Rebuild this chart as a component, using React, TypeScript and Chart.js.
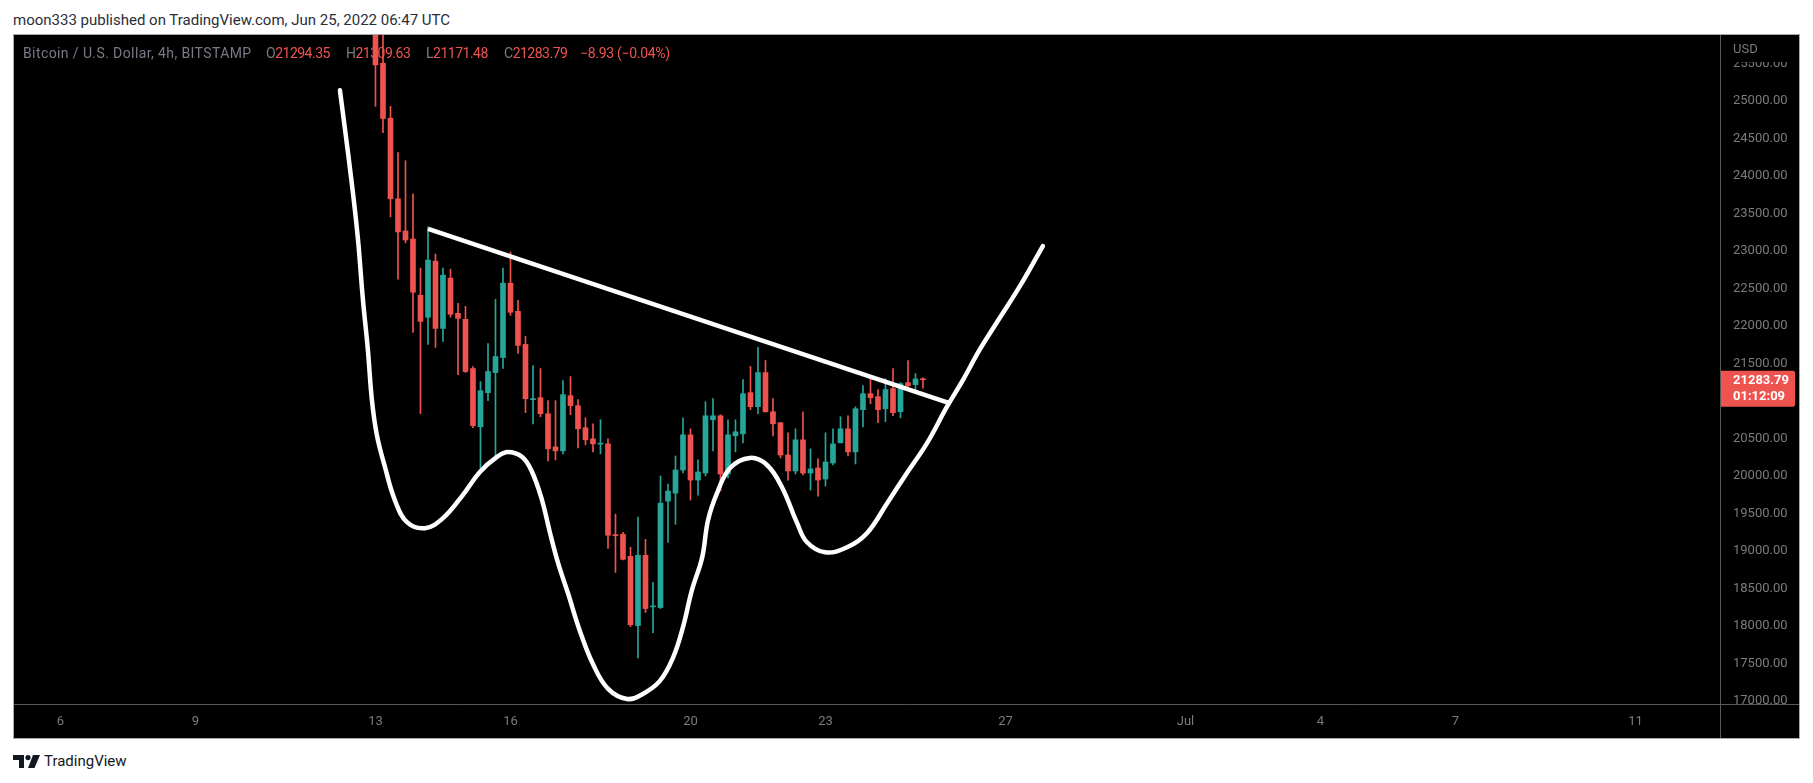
import React, { useEffect, useRef } from "react";
import { Chart, registerables } from "chart.js";

Chart.register(...registerables);

// ---- data ----
// 4h candles of BTC/USD (BITSTAMP) starting June 13 00:00; x = day of June
const candleStartDay = 13;
const candleStepDays = 4 / 24;

const opens = [
  26350, 25503, 24770, 23696, 23267, 23160, 22410, 22116, 22865, 21968,
  22638, 22169, 22089, 21433, 20656, 21111, 21379, 21580, 22571, 22196,
  21754, 21018, 21044, 20830, 20388, 20335, 21071, 20937, 20643, 20495,
  20425, 20428, 19215, 19223, 18929, 18005, 18942, 18255, 18246, 19665,
  19772, 20080, 20549, 19946, 20040, 20750, 20803, 20027, 20536, 20562,
  21111, 20924, 21379, 20857, 20710, 20281, 20067, 20482, 20040, 20107,
  19960, 20174, 20442, 20629, 20321, 20884, 21098, 21058, 20897, 21165,
  20857, 21245, 21218, 21294.35,
];
const highs = [
  26600, 26050, 24928, 24312, 24204, 23763, 22772, 23321, 22959, 22772,
  22758, 22303, 22263, 21460, 21259, 21767, 22357, 22772, 22986, 22343,
  21861, 21473, 21433, 21004, 21004, 21272, 21326, 21018, 20777, 20696,
  20750, 20495, 19491, 19250, 19049, 19451, 19156, 18581, 20000, 19893,
  20268, 20777, 20629, 20214, 20991, 21031, 20817, 20750, 20750, 21285,
  21460, 21714, 21540, 21031, 20715, 20576, 20629, 20857, 20362, 20228,
  20576, 20629, 20790, 20803, 20924, 21205, 21326, 21152, 21299, 21433,
  21245, 21540, 21366, 21309.63,
];
const lows = [
  24928, 24579, 23455, 22624, 23106, 21915, 20830, 21754, 21714, 21794,
  22116, 21352, 21380, 20643, 20080, 21004, 20214, 21433, 22142, 21634,
  20844, 20696, 20790, 20201, 20214, 20295, 20817, 20375, 20415, 20321,
  20295, 19036, 18715, 18880, 17991, 17576, 18179, 17911, 18233, 19116,
  19357, 20040, 19679, 19746, 20000, 20335, 19799, 19973, 20321, 20442,
  20884, 20830, 20850, 20536, 20241, 19946, 20027, 20013, 19813, 19732,
  19866, 20147, 20442, 20268, 20161, 20656, 20964, 20710, 20723, 20803,
  20777, 21138, 21111, 21171.48,
];
const closes = [
  25481, 24767, 23696, 23254, 23147, 22450, 22062, 22879, 21968, 22678,
  22156, 22102, 21393, 20670, 21138, 21393, 21593, 22571, 22183, 21741,
  21031, 21031, 20830, 20362, 20335, 21085, 20937, 20629, 20482, 20428,
  20432, 19210, 19205, 18889, 18018, 18942, 18233, 18262, 19638, 19799,
  20080, 20549, 19946, 20054, 20803, 20803, 20027, 20549, 20589, 21098,
  20924, 21379, 20857, 20696, 20281, 20067, 20482, 20040, 20094, 19946,
  20187, 20428, 20629, 20321, 20897, 21098, 21044, 20884, 21152, 20844,
  21232, 21205, 21294, 21283.79,
];

// hand-drawn annotation (white): cup-like curve and descending trendline
const curveDays = [
  12.21, 12.32, 12.48, 12.61, 12.72, 12.83, 12.92, 13.03, 13.21, 13.43,
  13.7, 14.1, 14.5, 14.94, 15.32, 15.7, 15.94, 16.26, 16.48, 16.7,
  16.88, 17.06, 17.28, 17.54, 17.83, 18.17, 18.59, 18.94, 19.32, 19.61,
  19.83, 20.03, 20.26, 20.39, 20.59, 20.88, 21.32, 21.7, 22.03, 22.37,
  22.59, 22.99, 23.48, 23.92, 24.37, 24.81, 25.26, 25.7, 26.06, 26.43,
  26.81, 27.32, 27.83,
];
const curvePrices = [
  25142, 24633, 23870, 23160, 22357, 21687, 21018, 20549, 20121, 19679,
  19384, 19304, 19438, 19746, 20054, 20254, 20321, 20254, 20054, 19679,
  19237, 18835, 18433, 17938, 17496, 17161, 17027, 17094, 17268, 17576,
  17978, 18474, 18915, 19411, 19772, 20107, 20241, 20147, 19853, 19371,
  19116, 18982, 19049, 19237, 19638, 20040, 20442, 20924, 21285, 21687,
  22049, 22531, 23066,
];
const trendDays = [14.17, 25.72];
const trendPrices = [23294, 20977];

const xTickValues = [6, 9, 13, 16, 20, 23, 27, 31, 34, 37, 41];
const xTickLabels = ["6", "9", "13", "16", "20", "23", "27", "Jul", "4", "7", "11"];
const yTickValues = [
  17000, 17500, 18000, 18500, 19000, 19500, 20000, 20500, 21000, 21500,
  22000, 22500, 23000, 23500, 24000, 24500, 25000, 25500,
];

const legendTitle = "Bitcoin / U.S. Dollar, 4h, BITSTAMP";
const legendKeys = ["O", "H", "L", "C"];
const legendValues = ["21294.35", "21309.63", "21171.48", "21283.79"];
const legendChange = "−8.93 (−0.04%)";

const xMin = 4.967;
const xMax = 42.878;
const yMin = 16960;
const yMax = 25880;

const lastClose = 21283.79;
const countdown = "01:12:09";

const UP = "#26a69a";
const DOWN = "#ef5350";
const AXIS_TEXT = "#7b7b7b";
const LEGEND_GRAY = "#787b86";
const SEP = "#5a5a5a";

const legendKeyLeft = [266, 346, 426, 504];
const legendChangeLeft = 580;

export default function App() {
  const canvasRef = useRef<HTMLCanvasElement | null>(null);

  useEffect(() => {
    const canvas = canvasRef.current;
    if (!canvas) return;

    const xs = opens.map((_, i) => candleStartDay + i * candleStepDays);
    const colors = opens.map((o, i) => (closes[i] >= o ? UP : DOWN));

    const overlay = {
      id: "tvOverlay",
      afterDraw(chart: any) {
        const { ctx, chartArea, width, height } = chart;
        const yScale = chart.scales.y;
        ctx.save();
        ctx.fillStyle = "#000";
        ctx.fillRect(chartArea.right + 1, 0, width - chartArea.right, 27);
        ctx.fillRect(chartArea.right + 1, chartArea.bottom + 1, width - chartArea.right, height - chartArea.bottom);
        ctx.fillStyle = AXIS_TEXT;
        ctx.font = "13px Roboto";
        ctx.textBaseline = "middle";
        ctx.textAlign = "left";
        ctx.fillText("USD", chartArea.right + 13, 15);
        ctx.strokeStyle = SEP;
        ctx.lineWidth = 1;
        ctx.beginPath();
        ctx.moveTo(Math.round(chartArea.right) + 0.5, 0);
        ctx.lineTo(Math.round(chartArea.right) + 0.5, height);
        ctx.moveTo(0, Math.round(chartArea.bottom) + 0.5);
        ctx.lineTo(width, Math.round(chartArea.bottom) + 0.5);
        ctx.stroke();
        const py = yScale.getPixelForValue(lastClose);
        const bx = chartArea.right + 1;
        const by = py - 9;
        const bw = 74;
        const bh = 36;
        ctx.fillStyle = DOWN;
        ctx.beginPath();
        ctx.moveTo(bx, by);
        ctx.lineTo(bx + bw - 2, by);
        ctx.quadraticCurveTo(bx + bw, by, bx + bw, by + 2);
        ctx.lineTo(bx + bw, by + bh - 2);
        ctx.quadraticCurveTo(bx + bw, by + bh, bx + bw - 2, by + bh);
        ctx.lineTo(bx, by + bh);
        ctx.closePath();
        ctx.fill();
        ctx.fillStyle = "#ffffff";
        ctx.font = "bold 13px Roboto";
        ctx.fillText(lastClose.toFixed(2), chartArea.right + 13, py + 1);
        ctx.fillText(countdown, chartArea.right + 13, py + 17);
        ctx.restore();
      },
    };

    const chart = new Chart(canvas, {
      type: "bar",
      data: {
        datasets: [
          {
            type: "line",
            data: curveDays.map((d, i) => ({ x: d, y: curvePrices[i] })),
            borderColor: "#ffffff",
            borderWidth: 4.5,
            pointRadius: 0,
            tension: 0.4,
            fill: false,
            borderCapStyle: "round",
            borderJoinStyle: "round",
            order: 0,
          } as any,
          {
            type: "line",
            data: trendDays.map((d, i) => ({ x: d, y: trendPrices[i] })),
            borderColor: "#ffffff",
            borderWidth: 4.5,
            pointRadius: 0,
            fill: false,
            borderCapStyle: "butt",
            order: 0,
          } as any,
          {
            type: "bar",
            data: xs.map((x, i) => ({ x, y: [opens[i], closes[i]] })),
            backgroundColor: colors,
            barThickness: 5,
            minBarLength: 1,
            grouped: false,
            clip: 0,
            order: 1,
          } as any,
          {
            type: "bar",
            data: xs.map((x, i) => ({ x, y: [lows[i], highs[i]] })),
            backgroundColor: colors,
            barThickness: 1,
            grouped: false,
            clip: 0,
            order: 2,
          } as any,
        ],
      },
      options: {
        responsive: true,
        maintainAspectRatio: false,
        animation: false,
        events: [],
        layout: { padding: 0 },
        plugins: {
          legend: { display: false },
          tooltip: { enabled: false },
        },
        scales: {
          x: {
            type: "linear",
            position: "bottom",
            min: xMin,
            max: xMax,
            offset: false,
            grid: { display: false, drawTicks: false },
            border: { display: false },
            ticks: {
              autoSkip: false,
              maxRotation: 0,
              padding: 10,
              color: AXIS_TEXT,
              font: { family: "Roboto", size: 13 },
              callback: (v: any) => {
                const idx = xTickValues.indexOf(Number(v));
                return idx >= 0 ? xTickLabels[idx] : "";
              },
            },
            afterBuildTicks: (s: any) => {
              s.ticks = xTickValues.map((v) => ({ value: v }));
            },
            afterFit: (s: any) => {
              s.height = 34;
              s.paddingLeft = 0;
              s.paddingRight = 0;
            },
          },
          y: {
            type: "linear",
            position: "right",
            min: yMin,
            max: yMax,
            grid: { display: false, drawTicks: false },
            border: { display: false },
            ticks: {
              autoSkip: false,
              padding: 13,
              color: AXIS_TEXT,
              font: { family: "Roboto", size: 13 },
              callback: (v: any) => Number(v).toFixed(2),
            },
            afterBuildTicks: (s: any) => {
              s.ticks = yTickValues.map((v) => ({ value: v }));
            },
            afterFit: (s: any) => {
              s.width = 79;
              s.paddingTop = 0;
              s.paddingBottom = 0;
            },
          },
        } as any,
      },
      plugins: [overlay],
    } as any);

    return () => chart.destroy();
  }, []);

  const legendText = {
    position: "absolute" as const,
    top: 45,
    fontSize: 14,
    lineHeight: "16px",
    whiteSpace: "nowrap" as const,
  };

  return (
    <div
      style={{
        position: "absolute",
        left: 0,
        top: 0,
        width: 1813,
        height: 783,
        background: "#ffffff",
        fontFamily: "Roboto, 'Noto Sans', sans-serif",
        overflow: "hidden",
      }}
    >
      <div
        style={{
          position: "absolute",
          left: 13,
          top: 11,
          fontSize: 15,
          lineHeight: "18px",
          color: "#2a2e39",
          whiteSpace: "nowrap",
        }}
      >
        moon333 published on TradingView.com, Jun 25, 2022 06:47 UTC
      </div>

      <div
        style={{
          position: "absolute",
          left: 13,
          top: 34,
          width: 1787,
          height: 705,
          boxSizing: "border-box",
          border: "1px solid #a6a8b0",
          background: "#000",
        }}
      />
      <div style={{ position: "absolute", left: 14, top: 35, width: 1785, height: 703 }}>
        <canvas ref={canvasRef} />
      </div>

      <div style={{ ...legendText, left: 23, color: LEGEND_GRAY, letterSpacing: "0.4px" }}>{legendTitle}</div>
      {legendKeys.map((k, i) => (
        <div key={k} style={{ ...legendText, left: legendKeyLeft[i], letterSpacing: "-0.5px" }}>
          <span style={{ color: LEGEND_GRAY }}>{k}</span>
          <span style={{ color: DOWN }}>{legendValues[i]}</span>
        </div>
      ))}
      <div style={{ ...legendText, left: legendChangeLeft, color: DOWN, letterSpacing: "-0.3px" }}>{legendChange}</div>

      <div style={{ position: "absolute", left: 13, top: 754, display: "flex", alignItems: "center" }}>
        <svg width="27" height="13" viewBox="0 0 27 13">
          <path d="M0 0 H11 V13 H6 V5 H0 Z" fill="#131722" />
          <circle cx="15" cy="2.6" r="2.6" fill="#131722" />
          <path d="M20 0 H27 L21.5 13 H15 Z" fill="#131722" />
        </svg>
        <span style={{ marginLeft: 4, fontSize: 15, color: "#131722", lineHeight: "15px" }}>TradingView</span>
      </div>
    </div>
  );
}
